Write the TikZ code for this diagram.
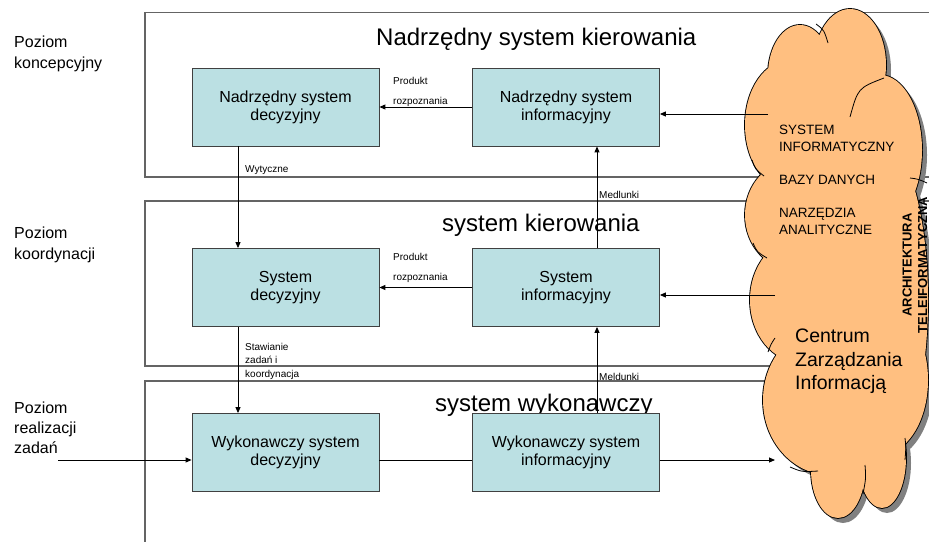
\documentclass[tikz,border=0pt]{standalone}
\usepackage{fontspec}
\setmainfont{Liberation Sans}
\usetikzlibrary{arrows.meta}
\definecolor{boxteal}{RGB}{187,224,227}
\definecolor{cloudorange}{RGB}{255,191,128}
\definecolor{framegray}{RGB}{100,100,100}
\tikzset{
  sysbox/.style={draw=black!75, fill=boxteal, line width=0.8pt, minimum width=187pt, minimum height=78pt, align=center, font=\fontsize{16}{18}\selectfont},
  arr/.style={-{Triangle[length=6pt,width=5pt]}, line width=0.9pt},
  wire/.style={line width=0.9pt},
  layerframe/.style={draw=framegray, line width=1.2pt},
  leveltext/.style={anchor=west, inner sep=0pt, align=left, font=\fontsize{16}{21}\selectfont},
  titletext/.style={anchor=base west, inner sep=0pt, font=\fontsize{24}{28}\selectfont},
  flowtext/.style={anchor=base west, inner sep=0pt, font=\fontsize{10}{13.5}\selectfont},
  flowblock/.style={anchor=west, inner sep=0pt, align=left, font=\fontsize{10}{13.5}\selectfont},
  cloudtext/.style={anchor=west, inner sep=0pt, align=left, font=\fontsize{13.5}{17}\selectfont},
}
\def\lobelist{850/65/36/56, 800/75/32/50, 790/125/45/65, 795/215/50/55, 800/300/50/62, 830/400/67/75, 838/470/27/48, 882/458/24/50, 880/380/48/75, 880/300/48/160, 880/150/42/75, 840/260/60/210}
\begin{document}
\begin{tikzpicture}[x=1pt, y=-1pt]
  \useasboundingbox (0,0) rectangle (929,541);
  \clip (0,0) rectangle (929,541);

  \draw[layerframe] (145,12.5) rectangle (940,177);
  \draw[layerframe] (145,201) rectangle (940,366);
  \draw[layerframe] (145,381) rectangle (940,550);

  \node at (14,54) [leveltext] (lvl1) {Poziom\\koncepcyjny};
  \node at (14,245) [leveltext] (lvl2) {Poziom\\koordynacji};
  \node at (14,428) [leveltext, font=\fontsize{16}{20}\selectfont] (lvl3) {Poziom\\realizacji\\zadań};

  \node at (376,45) [titletext] (t1) {Nadrzędny system kierowania};
  \node at (442,231) [titletext] (t2) {system kierowania};
  \node at (435,411) [titletext] (t3) {system wykonawczy};

  \node at (285.5,107) [sysbox] (nsd) {Nadrzędny system\\decyzyjny};
  \node at (566,107) [sysbox] (nsi) {Nadrzędny system\\informacyjny};
  \node at (285.5,287.5) [sysbox] (sd) {System\\decyzyjny};
  \node at (566,287.5) [sysbox] (si) {System\\informacyjny};
  \node at (285.5,452.5) [sysbox] (wsd) {Wykonawczy system\\decyzyjny};
  \node at (566,452.5) [sysbox] (wsi) {Wykonawczy system\\informacyjny};

  \fill[black!50] foreach \cx/\cy/\rx/\ry in \lobelist {(\cx+5,\cy+5) ellipse [x radius=\rx pt, y radius=\ry pt]};
  \draw[line width=1.8pt] foreach \cx/\cy/\rx/\ry in \lobelist {(\cx,\cy) ellipse [x radius=\rx pt, y radius=\ry pt]};
  \fill[cloudorange] foreach \cx/\cy/\rx/\ry in \lobelist {(\cx,\cy) ellipse [x radius=\rx pt, y radius=\ry pt]};
  \draw[line width=0.8pt] (816,24) .. controls (824,30) .. (828,43);
  \draw[line width=0.8pt] (850,117) .. controls (858,88) .. (884,78);
  \draw[line width=0.8pt] (752,160) .. controls (755,169) .. (764,176);
  \draw[line width=0.8pt] (753,243) .. controls (757,252) .. (767,258);
  \draw[line width=0.8pt] (775,338) .. controls (771,344) .. (768,352);
  \draw[line width=0.8pt] (790,467) .. controls (802,472) .. (818,471);
  \draw[line width=0.8pt] (865,465) .. controls (866,478) .. (863,494);
  \draw[line width=0.8pt] (905,438) .. controls (906,447) .. (905,460);
  \draw[line width=0.8pt] (910,178) .. controls (918,179) .. (927,183);

  \node at (779,138.5) [cloudtext] (ci) {SYSTEM\\INFORMATYCZNY};
  \node at (779,184) [cloudtext, anchor=base west] (cb) {BAZY DANYCH};
  \node at (779,221) [cloudtext] (cn) {NARZĘDZIA\\ANALITYCZNE};
  \node at (795,361.5) [anchor=west, inner sep=0pt, align=left, font=\fontsize{19.5}{23.5}\selectfont] (czi) {Centrum\\Zarządzania\\Informacją};
  \node at (915,265) [rotate=90, inner sep=0pt, align=center, font=\fontsize{13}{15.5}\selectfont\bfseries] (arch) {ARCHITEKTURA\\TELEIFORMATYCZNA};

  \coordinate (c1) at (768,114);
  \coordinate (c2) at (775,295);
  \coordinate (c3) at (775,460);
  \coordinate (in) at (58,460);

  \draw[arr] (nsi.west) -- (nsd.east);
  \draw[arr] (c1) -- (nsi.east |- c1);
  \draw[arr] ([xshift=-47.5pt]nsd.south) -- ([xshift=-47.5pt]sd.north);
  \draw[arr] ([xshift=31pt]si.north) -- ([xshift=31pt]nsi.south);
  \draw[arr] (si.west) -- (sd.east);
  \draw[arr] (c2) -- (si.east |- c2);
  \draw[arr] ([xshift=-47.5pt]sd.south) -- ([xshift=-47.5pt]wsd.north);
  \draw[arr] ([xshift=31pt]wsi.north) -- ([xshift=31pt]si.south);
  \draw[arr] (in) -- (wsd.west |- in);
  \draw[wire] (wsd.east |- in) -- (wsi.west |- in);
  \draw[arr] (wsi.east |- in) -- (c3);

  \node at (393,91.5) [flowblock, font=\fontsize{10}{20}\selectfont] (pr1) {Produkt\\rozpoznania};
  \node at (393,267.5) [flowblock, font=\fontsize{10}{20}\selectfont] (pr2) {Produkt\\rozpoznania};
  \node at (245,172) [flowtext] (wyt) {Wytyczne};
  \node at (245,361) [flowblock] (staw) {Stawianie\\zadań i\\koordynacja};
  \node at (599,198) [flowtext] (med1) {Medlunki};
  \node at (599,380) [flowtext] (med2) {Meldunki};
\end{tikzpicture}
\end{document}
